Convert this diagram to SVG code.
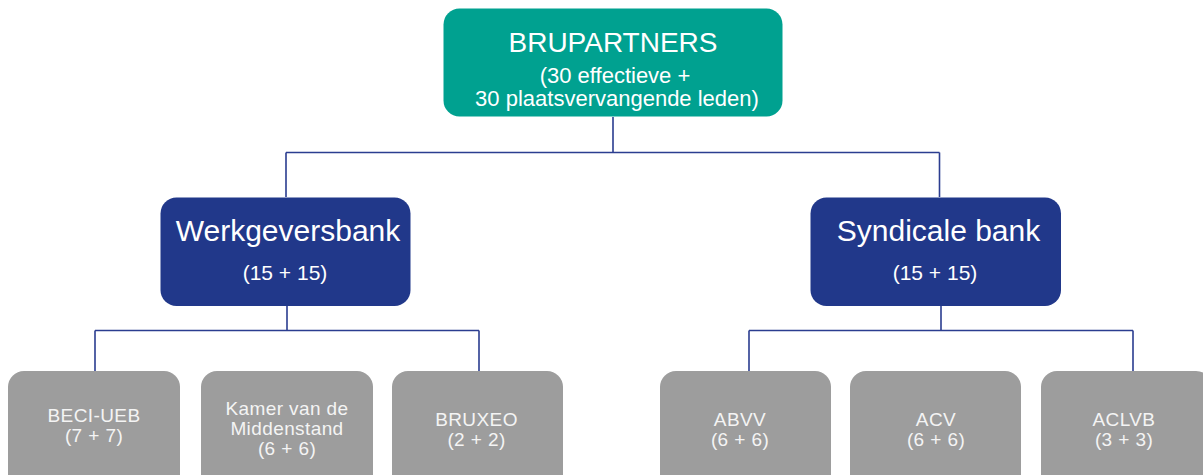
<svg xmlns="http://www.w3.org/2000/svg" width="1203" height="475" viewBox="0 0 1203 475">
  <style>
    .top { fill: #00a190; }
    .bank { fill: #21388a; }
    .org { fill: #9d9d9d; }
    text { font-family: "Liberation Sans", Arial, sans-serif; fill: #ffffff; text-anchor: middle; }
    .t1 { font-size: 28px; }
    .t2 { font-size: 22px; }
    .b1 { font-size: 30px; }
    .b2 { font-size: 21px; }
    .o { font-size: 19px; fill: #f4f4f4; letter-spacing: 0.4px; }
    .conn { fill: none; stroke: #2b3d90; stroke-width: 1.6; }
  </style>

  <g id="connectors">
    <path class="conn" d="M613,117 V152.5 M286,152.5 H939.5 M286,152.5 V197 M939.5,152.5 V197"/>
    <path class="conn" d="M287,306 V330.5 M95,330.5 H479 M95,330.5 V371 M479,330.5 V371"/>
    <path class="conn" d="M941,306 V330.5 M749,330.5 H1133 M749,330.5 V371 M1133,330.5 V371"/>
  </g>

  <g id="brupartners">
    <rect class="top" x="443.5" y="8.5" width="339" height="108" rx="16"/>
    <text class="t1" x="613" y="52">BRUPARTNERS</text>
    <text class="t2" x="615" y="82.5">(30 effectieve +</text>
    <text class="t2" x="617" y="106">30 plaatsvervangende leden)</text>
  </g>

  <g id="werkgeversbank">
    <rect class="bank" x="160.5" y="197.5" width="250" height="108.5" rx="16"/>
    <text class="b1" x="288" y="241">Werkgeversbank</text>
    <text class="b2" x="285" y="280">(15 + 15)</text>
  </g>

  <g id="syndicale-bank">
    <rect class="bank" x="810.5" y="197.5" width="250.5" height="108.5" rx="16"/>
    <text class="b1" x="938.5" y="241">Syndicale bank</text>
    <text class="b2" x="935" y="280">(15 + 15)</text>
  </g>

  <g id="beci-ueb">
    <rect class="org" x="8" y="371" width="172" height="120" rx="16"/>
    <text class="o" x="94" y="421.5">BECI-UEB</text>
    <text class="o" x="94" y="442">(7 + 7)</text>
  </g>

  <g id="kamer">
    <rect class="org" x="201" y="371" width="172" height="120" rx="16"/>
    <text class="o" x="287" y="415">Kamer van de</text>
    <text class="o" x="287" y="435">Middenstand</text>
    <text class="o" x="287" y="455">(6 + 6)</text>
  </g>

  <g id="bruxeo">
    <rect class="org" x="392" y="371" width="171" height="120" rx="16"/>
    <text class="o" x="476.5" y="426">BRUXEO</text>
    <text class="o" x="476.5" y="446">(2 + 2)</text>
  </g>

  <g id="abvv">
    <rect class="org" x="660" y="371" width="171" height="120" rx="16"/>
    <text class="o" x="740" y="426">ABVV</text>
    <text class="o" x="740" y="446">(6 + 6)</text>
  </g>

  <g id="acv">
    <rect class="org" x="850" y="371" width="171" height="120" rx="16"/>
    <text class="o" x="936" y="426">ACV</text>
    <text class="o" x="936" y="446">(6 + 6)</text>
  </g>

  <g id="aclvb">
    <rect class="org" x="1041" y="371" width="171" height="120" rx="16"/>
    <text class="o" x="1124" y="426">ACLVB</text>
    <text class="o" x="1124" y="446">(3 + 3)</text>
  </g>
</svg>
